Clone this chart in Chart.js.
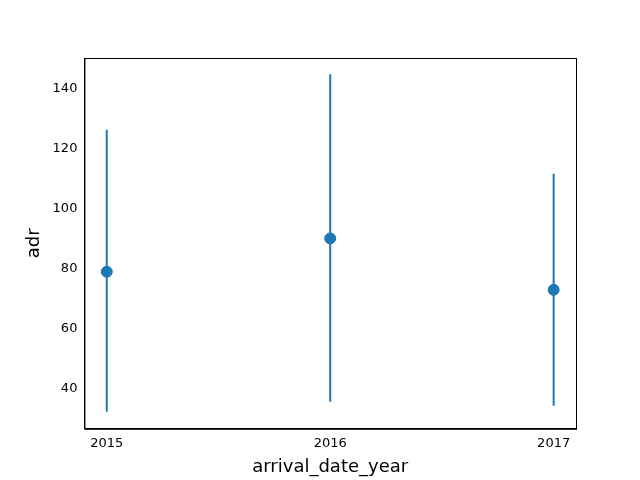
<!DOCTYPE html>
<html>
<head>
<meta charset="utf-8">
<script src="https://cdn.jsdelivr.net/npm/chart.js@4"></script>
<style>body{margin:0;background:#fff}</style>
</head>
<body>
<canvas id="c" width="640" height="480"></canvas>
<script>
// --- Donnees ---
const years = ['2015', '2016', '2017'];
const adrMean = [78.9, 90.0, 72.9];
const adrLow = [32.3, 35.6, 34.3];
const adrHigh = [126.2, 144.7, 111.5];

const bleu = '#1f77b4';

const errorSets = years.map((y, i) => ({
  type: 'scatter',
  data: [{x: i, y: adrLow[i]}, {x: i, y: adrHigh[i]}],
  showLine: true,
  borderColor: bleu,
  borderWidth: 2,
  pointRadius: 0
}));

const cadre = {
  id: 'cadre',
  afterDraw(chart) {
    const a = chart.chartArea, ctx = chart.ctx;
    ctx.save();
    ctx.strokeStyle = '#000';
    ctx.lineWidth = 1;
    ctx.strokeRect(a.left + 0.5, a.top + 0.5, a.right - a.left, a.bottom - a.top);
    ctx.restore();
  }
};

Chart.defaults.font.family = 'DejaVu Sans';
Chart.defaults.color = '#000';

new Chart(document.getElementById('c').getContext('2d'), {
  type: 'scatter',
  data: {
    datasets: [...errorSets, {
      data: adrMean.map((v, i) => ({x: i, y: v})),
      backgroundColor: bleu,
      borderColor: bleu,
      pointRadius: 5.5,
      pointHoverRadius: 5.5
    }]
  },
  options: {
    responsive: false,
    animation: false,
    layout: {padding: {top: 58, right: 64, left: 20, bottom: 0}},
    plugins: {legend: {display: false}, tooltip: {enabled: false}},
    scales: {
      x: {
        type: 'linear', min: -0.1, max: 2.1,
        grid: {display: false, drawTicks: true, tickLength: 4},
        border: {color: '#000'},
        afterBuildTicks: s => { s.ticks = [0, 1, 2].map(v => ({value: v})); },
        ticks: {font: {size: 13}, callback: v => years[v]},
        title: {display: true, text: 'arrival_date_year', font: {size: 18}, padding: {top: 2, bottom: 2}}
      },
      y: {
        min: 26.6, max: 150.07,
        grid: {display: false, tickLength: 4},
        border: {color: '#000'},
        afterBuildTicks: s => { s.ticks = [40, 60, 80, 100, 120, 140].map(v => ({value: v})); },
        ticks: {font: {size: 13}},
        title: {display: true, text: 'adr', font: {size: 18}}
      }
    }
  },
  plugins: [cadre]
});
</script>
</body>
</html>
